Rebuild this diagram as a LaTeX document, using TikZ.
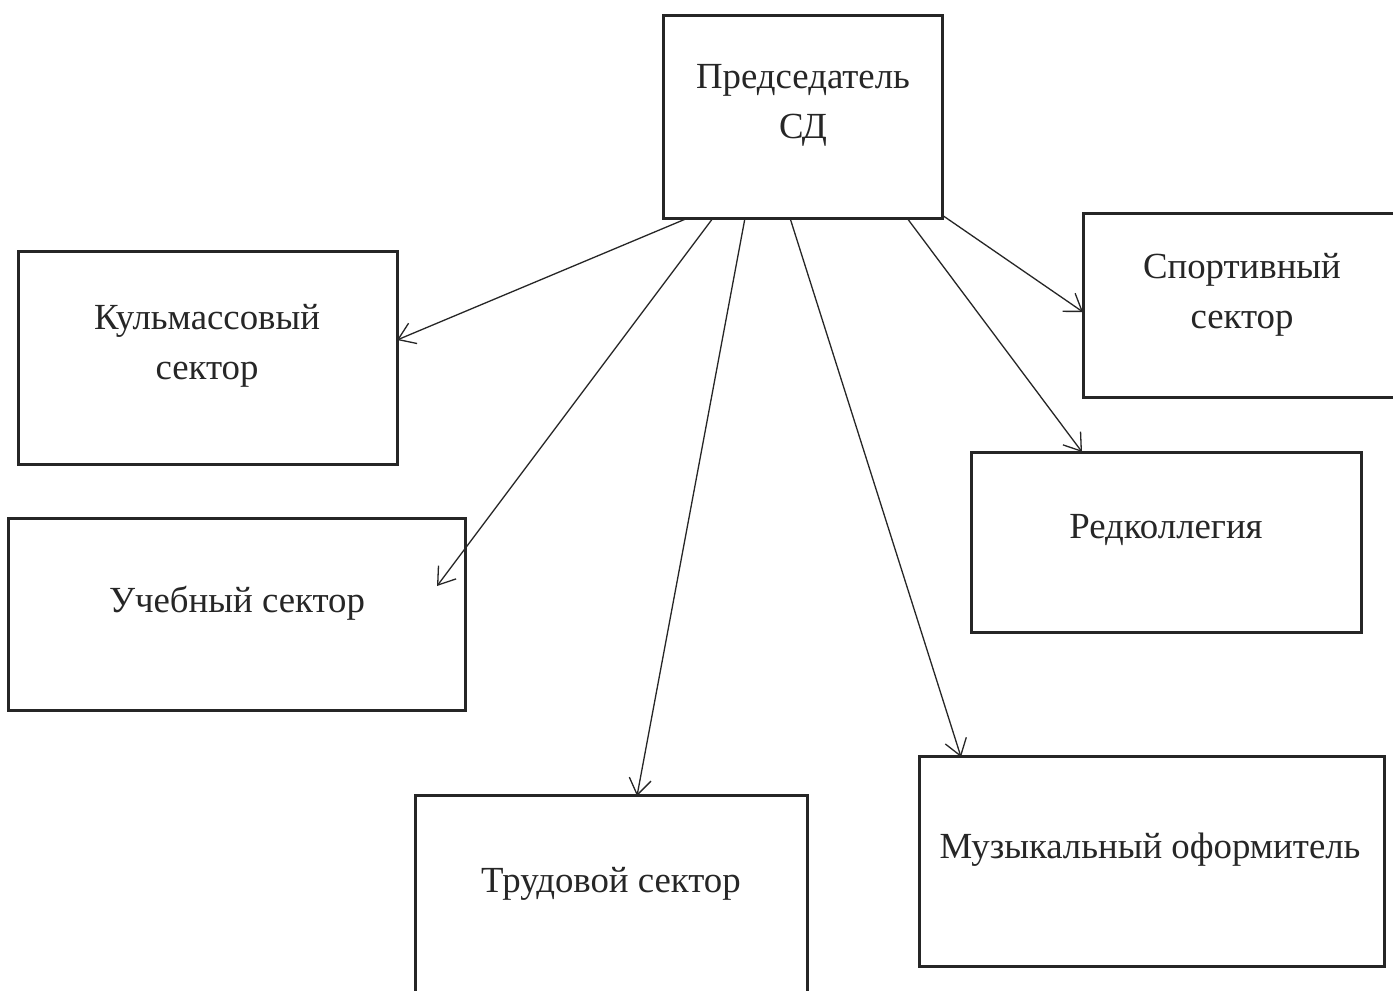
\documentclass[tikz,border=0pt]{standalone}
\usepackage{fontspec}
\setmainfont{Liberation Serif}
\usetikzlibrary{arrows.meta}
\definecolor{ink}{HTML}{262626}
\begin{document}
\begin{tikzpicture}[x=0.5pt,y=-0.5pt,
  box/.style={draw=ink,line width=1.5pt,rectangle,inner sep=0pt},
  lbl/.style={text=ink,font=\fontsize{18.4}{25}\selectfont,align=center,inner sep=0pt},
  conn/.style={draw=ink,line width=0.65pt,-{Straight Barb[length=8pt,width=11pt]}}]
\useasboundingbox (0,0) rectangle (1393,991);
\clip (0,0) rectangle (1393,991);
\fill[white] (0,0) rectangle (1393,991);
% boxes
\node[box,minimum width=279pt*0.5,minimum height=203pt*0.5] (ch) at (802.5,116.5) {};
\node[box,minimum width=379pt*0.5,minimum height=213pt*0.5] (kul) at (207.5,357.5) {};
\node[box,minimum width=457pt*0.5,minimum height=192pt*0.5] (ucheb) at (236.5,614) {};
\node[box,minimum width=392pt*0.5,minimum height=215pt*0.5] (trud) at (611,902.5) {};
\node[box,minimum width=465pt*0.5,minimum height=210pt*0.5] (muz) at (1151.5,861) {};
\node[box,minimum width=390pt*0.5,minimum height=180pt*0.5] (red) at (1166,542) {};
\node[box,minimum width=347pt*0.5,minimum height=184pt*0.5] (sport) at (1256.5,305) {};
% labels
\node[lbl] (chT) at (803,105) {Председатель\\СД};
\node[lbl] (kulT) at (207,346) {Кульмассовый\\сектор};
\node[lbl] (uchebT) at (237,603) {Учебный сектор};
\node[lbl] (trudT) at (611,884) {Трудовой сектор};
\node[lbl] (muzT) at (1150,850) {Музыкальный оформитель};
\node[lbl] (redT) at (1166,530) {Редколлегия};
\node[lbl] (sportT) at (1242,295) {Спортивный\\сектор};
% connector endpoints
\coordinate (s1) at (688,218);
\coordinate (s2) at (713,218);
\coordinate (s3) at (745,218);
\coordinate (s4) at (790,218);
\coordinate (s5) at (907,218);
\coordinate (s6) at (942,215);
\coordinate (e1) at (397,340);
\coordinate (e2) at (437,586);
\coordinate (e3) at (637,796);
\coordinate (e4) at (961,757);
\coordinate (e5) at (1082,452);
\coordinate (e6) at (1083,312);
\draw[conn] (s1) -- (e1);
\draw[conn] (s2) -- (e2);
\draw[conn] (s3) -- (e3);
\draw[conn] (s4) -- (e4);
\draw[conn] (s5) -- (e5);
\draw[conn] (s6) -- (e6);
\end{tikzpicture}
\end{document}
